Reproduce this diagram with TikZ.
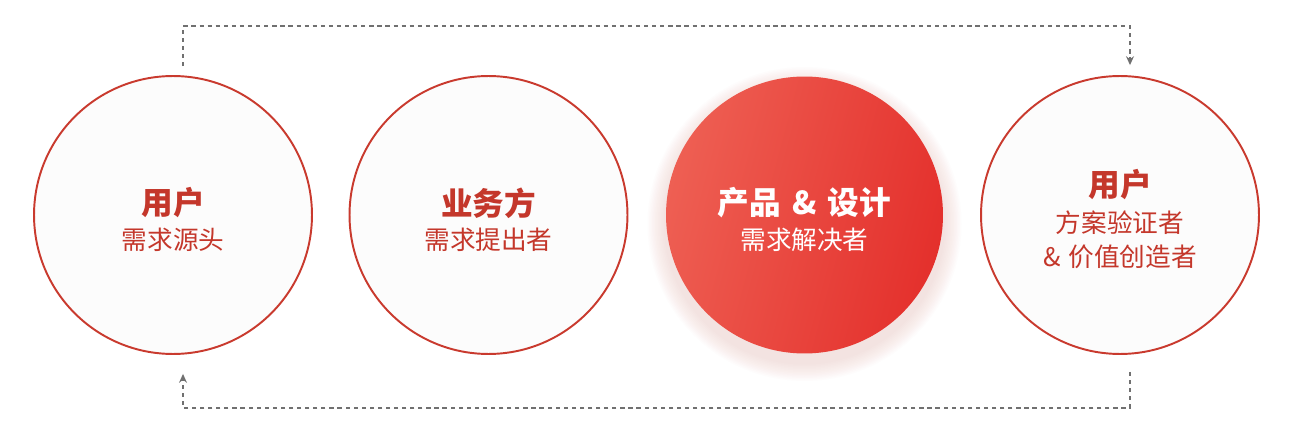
\documentclass[tikz,border=0pt]{standalone}
\usepackage{fontspec}
\setmainfont{Noto Sans CJK SC}
\usetikzlibrary{arrows.meta,calc}
\definecolor{cred}{HTML}{C93A2E}
\definecolor{ctext}{HTML}{C4372B}
\definecolor{gl}{HTML}{EE5F53}
\definecolor{gr}{HTML}{E4302C}
\definecolor{dgray}{HTML}{707070}
\definecolor{glow}{HTML}{E9A09A}
\definecolor{ringfill}{HTML}{FCFCFC}
\tikzset{
  ring/.style={circle, draw=cred, line width=1.1pt, fill=ringfill, minimum size=5.56cm, inner sep=0pt},
  solid disc/.style={circle, minimum size=5.54cm, inner sep=0pt, shading=axis, left color=gl, right color=gr, shading angle=75},
  ttl/.style={font=\bfseries\fontsize{18}{21}\selectfont, text=ctext, inner sep=0pt},
  sub/.style={font=\fontsize{14.6}{17}\selectfont, text=ctext, inner sep=0pt},
  flow/.style={dgray, line width=0.7pt, dash pattern=on 2.4pt off 2.2pt, -{Stealth[length=5pt,width=4.5pt]}}
}
\begin{document}
\begin{tikzpicture}[x=0.02cm, y=-0.02cm]
\fill[white] (0,0) rectangle (1296,446);
\useasboundingbox (0,0) rectangle (1296,446);
\node[ring] (c1) at (173,215) {};
\node[ring] (c2) at (488.5,215) {};
% glow behind the filled disc
\foreach \k in {0,...,11}{
  \fill[glow, opacity=0.025] (804.5,224) circle[radius={(139+18-1.5*\k)*0.02cm}];
}
\node[solid disc] (c3) at (804.5,215) {};
\node[ring] (c4) at (1120,215) {};
% texts
\node[ttl] (t1) at (173,203) {用户};
\node[sub] (s1) at (173,240) {需求源头};
\node[ttl] (t2) at (488.5,203) {业务方};
\node[sub] (s2) at (488.5,240) {需求提出者};
\node[ttl, text=white] (t3) at (804.5,203) {产品\hspace{0.35em}\&\hspace{0.35em}设计};
\node[sub, text=white] (s3) at (804.5,240) {需求解决者};
\node[ttl] (t4) at (1120,185) {用户};
\node[sub] (s4a) at (1120,223) {方案验证者};
\node[sub] (s4b) at (1120,257) {\&\hspace{0.3em}价值创造者};
% connectors
\coordinate (p1) at ($(c1.north)+(10,-9)$);
\coordinate (p2) at ($(c4.north)+(10,-10)$);
\draw[flow] (p1) -- ++(0,-40) -| (p2);
\coordinate (q1) at ($(c4.south)+(10,17)$);
\coordinate (q2) at ($(c1.south)+(10,19)$);
\draw[flow] (q1) -- ++(0,36) -| (q2);
\end{tikzpicture}
\end{document}
